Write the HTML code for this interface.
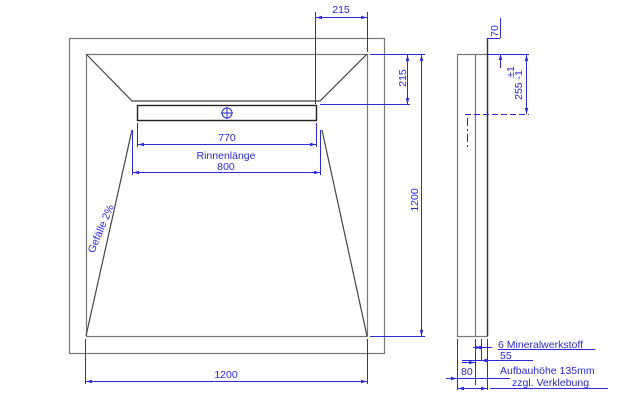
<!DOCTYPE html>
<html><head><style>
html,body{margin:0;padding:0;background:#fff;}
svg{display:block;}
text{font-family:"Liberation Sans",sans-serif;fill:#2a2ad8;font-size:10.5px;}
</style></head><body>
<svg width="640" height="400" viewBox="0 0 640 400" xmlns="http://www.w3.org/2000/svg">
<defs>
<marker id="a" viewBox="0 0 10 6" refX="10" refY="3" markerWidth="6" markerHeight="4" orient="auto-start-reverse"><path d="M0,0L10,3L0,6z" fill="#2a2ad8"/></marker>
</defs>
<g fill="none" stroke="#777" stroke-width="1.2">
<rect x="69.5" y="38.5" width="315" height="315"/>
<rect x="86.5" y="54.5" width="281" height="282"/>
<polyline points="86,54 132,101 320,101 367,54" stroke="#444"/>
<line x1="132" y1="130" x2="86" y2="336" stroke="#444"/>
<line x1="322" y1="130" x2="367" y2="336" stroke="#444"/>
<rect x="137.5" y="105.5" width="179" height="15" stroke="#222" stroke-width="1.4"/>
<rect x="457.5" y="54.5" width="30" height="282"/>
<line x1="475.5" y1="54" x2="475.5" y2="336"/>
<line x1="487.5" y1="38" x2="487.5" y2="336" stroke="#333" stroke-width="1.4"/>
</g>
<g stroke="#2a2ad8" stroke-width="1" fill="none">
<circle cx="227" cy="113" r="5"/>
<line x1="221" y1="113" x2="233" y2="113"/><line x1="227" y1="107" x2="227" y2="119"/>
<line x1="315.5" y1="12" x2="315.5" y2="104"/><line x1="367.5" y1="12" x2="367.5" y2="52"/>
<line x1="316" y1="17.5" x2="367" y2="17.5" marker-start="url(#a)" marker-end="url(#a)"/>
<line x1="370" y1="54.5" x2="425" y2="54.5"/><line x1="320" y1="104.5" x2="410" y2="104.5"/>
<line x1="407.5" y1="55" x2="407.5" y2="104" marker-start="url(#a)" marker-end="url(#a)"/>
<line x1="370" y1="336.5" x2="425" y2="336.5"/>
<line x1="421.5" y1="55" x2="421.5" y2="336" marker-start="url(#a)" marker-end="url(#a)"/>
<line x1="137.5" y1="123" x2="137.5" y2="147"/><line x1="316.5" y1="123" x2="316.5" y2="147"/>
<line x1="138" y1="144.5" x2="316" y2="144.5" marker-start="url(#a)" marker-end="url(#a)"/>
<line x1="132.5" y1="130" x2="132.5" y2="175"/><line x1="320.5" y1="130" x2="320.5" y2="175"/>
<line x1="133" y1="172.5" x2="320" y2="172.5" marker-start="url(#a)" marker-end="url(#a)"/>
<line x1="85.5" y1="339" x2="85.5" y2="384"/><line x1="367.5" y1="339" x2="367.5" y2="384"/>
<line x1="86" y1="381.5" x2="367" y2="381.5" marker-start="url(#a)" marker-end="url(#a)"/>
<line x1="500.5" y1="18" x2="500.5" y2="38" />
<line x1="488" y1="38.5" x2="500" y2="38.5"/>
<line x1="500.5" y1="54" x2="500.5" y2="68" marker-start="url(#a)"/>
<line x1="488" y1="54.5" x2="529" y2="54.5"/>
<line x1="526.5" y1="55" x2="526.5" y2="114" marker-start="url(#a)" marker-end="url(#a)"/>
<line x1="465" y1="114.5" x2="529" y2="114.5" stroke-dasharray="6,3"/>
<line x1="467.5" y1="118" x2="467.5" y2="150" stroke-dasharray="8,3,2,3"/>
<line x1="457.5" y1="339" x2="457.5" y2="390"/><line x1="475.5" y1="339" x2="475.5" y2="385"/>
<line x1="481.5" y1="339" x2="481.5" y2="361"/><line x1="487.5" y1="339" x2="487.5" y2="390"/>
<line x1="473" y1="347.5" x2="492" y2="347.5"/><line x1="475" y1="347.5" x2="481" y2="347.5" marker-start="url(#a)" marker-end="url(#a)"/>
<line x1="498" y1="349.5" x2="595" y2="349.5"/>
<line x1="462" y1="360.5" x2="533" y2="360.5"/>
<line x1="462" y1="362.5" x2="475" y2="362.5" marker-end="url(#a)"/><line x1="481" y1="360.5" x2="492" y2="360.5" marker-start="url(#a)"/>
<line x1="446" y1="378.5" x2="510" y2="378.5"/>
<line x1="450" y1="378.5" x2="457" y2="378.5" marker-end="url(#a)"/>
<line x1="458" y1="388.5" x2="487" y2="388.5" marker-start="url(#a)" marker-end="url(#a)"/>
<line x1="490" y1="388.5" x2="608" y2="388.5"/>
</g>
<text x="341" y="13" text-anchor="middle">215</text>
<text transform="translate(406,78) rotate(-90)" text-anchor="middle">215</text>
<text transform="translate(418,200) rotate(-90)" text-anchor="middle">1200</text>
<text x="227" y="141" text-anchor="middle">770</text>
<text x="226" y="159" text-anchor="middle">Rinnenlänge</text>
<text x="226" y="170" text-anchor="middle">800</text>
<text x="226" y="378" text-anchor="middle">1200</text>
<text transform="translate(104,230) rotate(-67)" text-anchor="middle">Gefälle 2%</text>
<text transform="translate(498,31) rotate(-90)" text-anchor="middle" font-size="9.5">70</text>
<text transform="translate(514,72) rotate(-90)" text-anchor="middle" font-size="9.5">±1</text>
<text transform="translate(522,85) rotate(-90)" text-anchor="middle" font-size="9.5">255 -1</text>
<text x="498" y="348" font-size="10">6 Mineralwerkstoff</text>
<text x="500" y="359" font-size="10">55</text>
<text x="461" y="375" font-size="10">80</text>
<text x="500" y="374" font-size="10">Aufbauhöhe 135mm</text>
<text x="512" y="386" font-size="10">zzgl. Verklebung</text>
</svg>
</body></html>
